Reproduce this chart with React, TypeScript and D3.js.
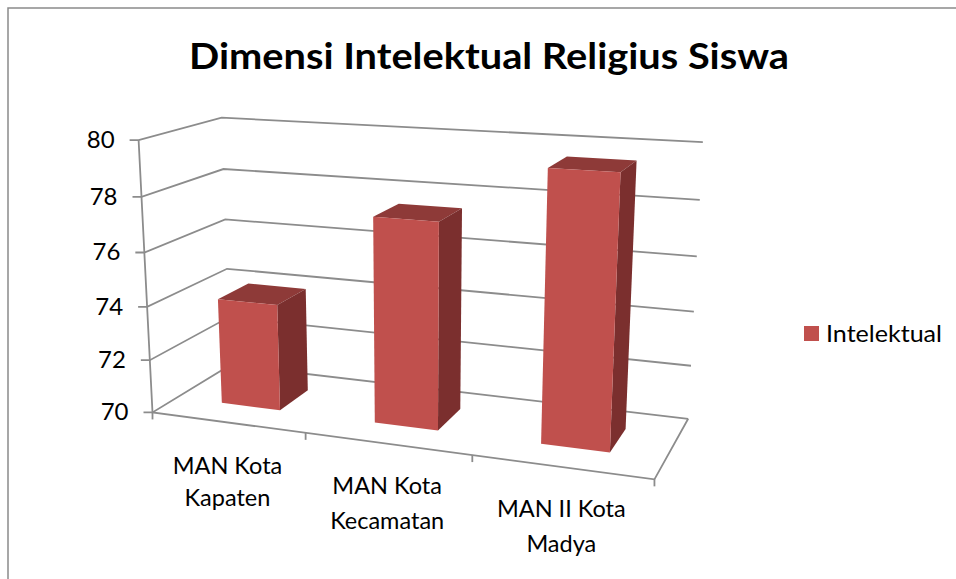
import React from "react";
import * as d3 from "d3";

const title = "Dimensi Intelektual Religius Siswa";
const seriesName = "Intelektual";
const categories = ["MAN Kota Kapaten", "MAN Kota Kecamatan", "MAN II Kota Madya"];
const categoryLines = [["MAN Kota", "Kapaten"], ["MAN Kota", "Kecamatan"], ["MAN II Kota", "Madya"]];
const values = [74, 77.5, 79.55];
const yTicks = [70, 72, 74, 76, 78, 80];

// Camera calibration: chart-space (u along categories, v depth, value) -> picture pixels
const frontLeftWall: [number, number][] = [[153, 412.5], [150, 360], [147.5, 307], [144, 252], [141, 196.5], [139, 140]];
const backLeftWall: [number, number][] = [[230, 365], [229, 317.5], [227, 269], [225, 219.5], [223, 169], [222, 118]];
const backRightWall: [number, number][] = [[688, 418], [691.5, 365.5], [694, 311], [697, 256.5], [700, 200], [702.5, 142.5]];
const frontFloor: [number, number, number][] = [[1 / 3, 305.7, 433], [2 / 3, 472, 455.5], [1, 654, 480]];

const W = 956, H = 579;
const zScale = d3.scaleLinear().domain([70, 80]).range([0, 1]);

function solve(A: number[][], b: number[]) {
  const n = b.length;
  const M = A.map((r, i) => [...r, b[i]]);
  for (let c = 0; c < n; c++) {
    let p = c;
    for (let r = c + 1; r < n; r++) if (Math.abs(M[r][c]) > Math.abs(M[p][c])) p = r;
    [M[c], M[p]] = [M[p], M[c]];
    for (let r = 0; r < n; r++) {
      if (r === c) continue;
      const f = M[r][c] / M[c][c];
      for (let k = c; k <= n; k++) M[r][k] -= f * M[c][k];
    }
  }
  return M.map((r, i) => r[n] / r[i]);
}

function calibrate() {
  const pts: [number, number, number, number, number][] = [];
  yTicks.forEach((t, i) => {
    const z = zScale(t);
    pts.push([0, 0, z, frontLeftWall[i][0], frontLeftWall[i][1]]);
    pts.push([0, 1, z, backLeftWall[i][0], backLeftWall[i][1]]);
    pts.push([1, 1, z, backRightWall[i][0], backRightWall[i][1]]);
  });
  frontFloor.forEach(([u, x, y]) => pts.push([u, 0, 0, x, y]));
  const rows: number[][] = [];
  const rhs: number[] = [];
  pts.forEach(([X, Y, Z, px, py]) => {
    const x = px / 1000, y = py / 1000;
    rows.push([X, Y, Z, 1, 0, 0, 0, 0, -x * X, -x * Y, -x * Z]); rhs.push(x);
    rows.push([0, 0, 0, 0, X, Y, Z, 1, -y * X, -y * Y, -y * Z]); rhs.push(y);
  });
  const n = 11;
  const ATA = d3.range(n).map((i) => d3.range(n).map((j) => d3.sum(rows, (r) => r[i] * r[j])));
  const ATb = d3.range(n).map((i) => d3.sum(rows, (r, k) => r[i] * rhs[k]));
  return solve(ATA, ATb);
}
const P = calibrate();
function project(u: number, v: number, z: number): [number, number] {
  const w = P[8] * u + P[9] * v + P[10] * z + 1;
  return [
    (1000 * (P[0] * u + P[1] * v + P[2] * z + P[3])) / w,
    (1000 * (P[4] * u + P[5] * v + P[6] * z + P[7])) / w,
  ];
}

const band = d3.scaleBand<string>().domain(categories).range([0, 1]).paddingInner(0.61).paddingOuter(0.305);
const depth = d3.scaleBand<string>().domain([seriesName]).range([0, 1]).paddingInner(0).paddingOuter(0.75);
const poly = d3.line();
const GRID = "#8c8c8c";
const FONT = "Lato, sans-serif";
const TEXT = "#000";
const labelBaseline = [474, 494, 517];
const labelGap = [32, 35, 35];

export default function App() {
  const v0 = depth(seriesName)!;
  const v1 = v0 + depth.bandwidth();
  return (
    <svg width={W} height={H} viewBox={`0 0 ${W} ${H}`} style={{ position: "absolute", left: 0, top: 0, background: "#fff" }} fontFamily={FONT}>
      <path d={`M8 ${H}V8H${W}`} fill="none" stroke="#8a8a8a" strokeWidth={1.5} />
      <text x={489} y={69} textAnchor="middle" fontSize={37} fontWeight={700} fill={TEXT} textLength={600} lengthAdjust="spacingAndGlyphs">{title}</text>

      {yTicks.map((t) => {
        const z = zScale(t);
        const a = project(0, 0, z), b = project(0, 1, z), c = project(1, 1, z);
        return (
          <g key={t}>
            <path d={poly([[a[0] - 9, a[1]], a, b, c])!} fill="none" stroke={GRID} strokeWidth={1.8} />
            <text x={a[0] - 24} y={a[1] + 8} textAnchor="end" fontSize={24} fill={TEXT}>{t}</text>
          </g>
        );
      })}
      <path d={poly([project(0, 0, 1), project(0, 0, 0), project(1, 0, 0), project(1, 1, 0)])!} fill="none" stroke={GRID} strokeWidth={1.8} />
      {d3.range(4).map((i) => {
        const a = project(i / 3, 0, 0);
        return <path key={i} d={`M${a[0]} ${a[1]}V${a[1] + 7}`} stroke={GRID} strokeWidth={1.8} />;
      })}

      {categories.map((c, i) => {
        const u0 = band(c)!, u1 = u0 + band.bandwidth();
        const z = zScale(values[i]);
        const face = (pts: [number, number, number][]) => poly(pts.map((p) => project(p[0], p[1], p[2])))! + "Z";
        return (
          <g key={c}>
            <path d={face([[u0, v0, z], [u1, v0, z], [u1, v1, z], [u0, v1, z]])} fill="#8e3a38" />
            <path d={face([[u1, v0, 0], [u1, v1, 0], [u1, v1, z], [u1, v0, z]])} fill="#7b2f2e" />
            <path d={face([[u0, v0, 0], [u1, v0, 0], [u1, v0, z], [u0, v0, z]])} fill="#c0504d" />
          </g>
        );
      })}

      {categories.map((c, i) => {
        const x = project((i + 0.5) / 3, 0, 0)[0];
        return (
          <text key={c} textAnchor="middle" fontSize={23.5} fill={TEXT}>
            {categoryLines[i].map((l, k) => (
              <tspan key={k} x={x} y={labelBaseline[i] + k * labelGap[i]}>{l}</tspan>
            ))}
          </text>
        );
      })}

      <rect x={804} y={326} width={15} height={15} fill="#c0504d" />
      <text x={826} y={342} fontSize={23} fill={TEXT} textLength={116} lengthAdjust="spacingAndGlyphs">{seriesName}</text>
    </svg>
  );
}
